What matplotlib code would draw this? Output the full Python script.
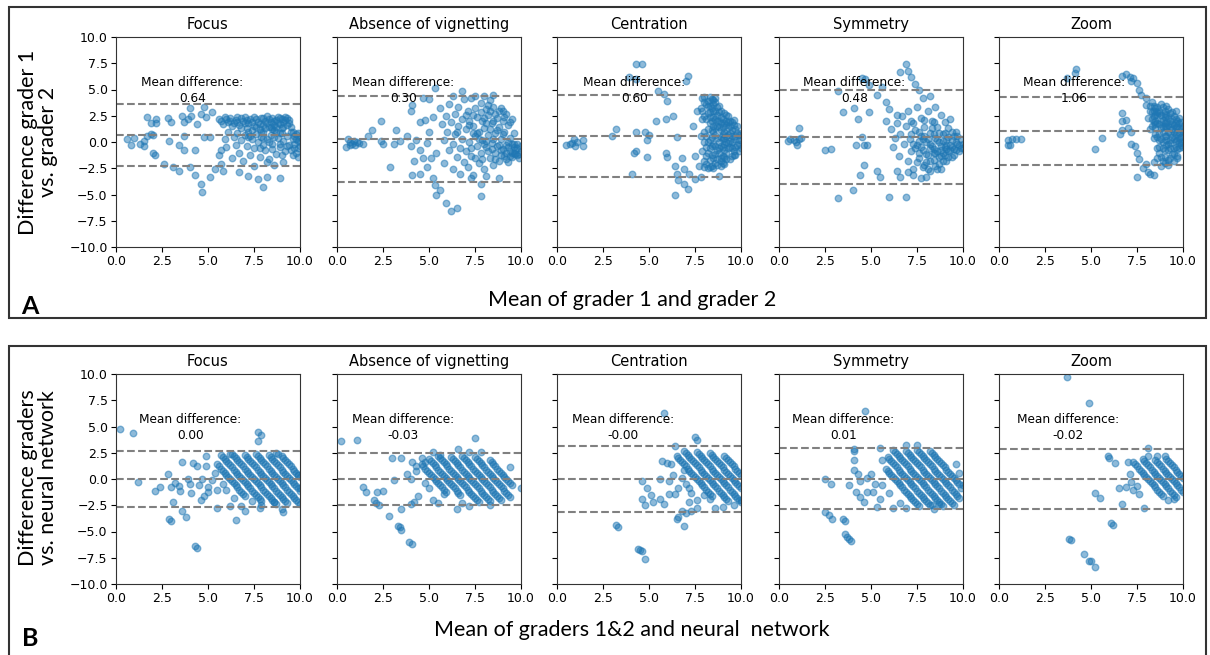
import matplotlib
matplotlib.use("Agg")
import matplotlib.pyplot as plt
from matplotlib.patches import Rectangle

titles = ["Focus", "Absence of vignetting", "Centration", "Symmetry", "Zoom"]

# panel A: grader 1 vs grader 2
mean_a = [0.64, 0.30, 0.60, 0.48, 1.06]
upper_a = [3.6, 4.4, 4.5, 5.0, 4.3]
lower_a = [-2.3, -3.8, -3.3, -4.0, -2.2]

# panel B: graders vs neural network
mean_b = [0.00, -0.03, -0.00, 0.01, -0.02]
upper_b = [2.65, 2.45, 3.15, 2.95, 2.9]
lower_b = [-2.65, -2.45, -3.15, -2.9, -2.9]

a_focus = [(0.6, 0.3), (0.8, -0.3), (1.0, 0.4), (1.3, -0.2), (1.5, 0.1), (1.5, -0.4), (1.7, 0.6), (1.9, 0.8),
           (2.0, 0.7), (1.7, 2.4), (1.9, 1.8), (2.2, 2.2), (2.2, 1.8), (2.8, 2.3), (3.0, 1.9), (3.6, 2.5),
           (3.7, 1.9), (3.9, 2.2), (4.0, 3.2), (4.1, 2.5), (4.4, 1.7), (4.6, 2.7), (4.8, 3.3), (4.9, 2.4),
           (5.2, 2.9), (2.9, 0.1), (3.4, -0.3), (3.7, 0.6), (3.7, -0.8), (4.3, -0.8), (4.8, 0.5), (5.1, 0.5),
           (2.0, -1.0), (2.1, -1.2), (2.6, -2.1), (3.1, -2.4), (3.4, -2.8), (4.0, -2.4), (4.3, -3.1),
           (4.6, -4.0), (4.7, -4.8), (5.1, -3.3), (5.4, -2.6), (7.2, -3.2), (7.7, -3.5), (8.0, -4.3),
           (8.2, -3.3), (8.9, -3.4), (6.7, -2.9), (7.5, -2.3), (9.1, -1.9), (5.7, -2.1), (5.8, -2.8),
           (5.6, 2.2), (5.8, 1.7), (5.9, 2.4), (6.1, 1.9), (6.2, 2.3), (6.3, 1.5), (6.5, 2.1), (6.6, 2.4),
           (6.7, 1.6), (6.9, 2.0), (7.0, 2.4), (7.1, 1.3), (7.2, 1.8), (7.3, 2.2), (7.5, 1.5), (7.5, 2.4),
           (7.7, 1.9), (7.8, 1.2), (7.9, 2.3), (8.0, 1.6), (8.1, 2.0), (8.2, 2.5), (8.3, 1.4), (8.4, 1.9),
           (8.5, 2.3), (8.6, 1.6), (8.7, 2.1), (8.8, 2.4), (8.9, 1.7), (9.0, 2.2), (9.1, 1.9), (9.2, 2.4),
           (9.3, 1.6), (9.4, 2.1), (5.6, -1.2), (5.7, -0.8), (5.9, 0.3), (6.0, -0.5), (6.1, 1.0), (6.3, -1.5),
           (6.4, 0.5), (6.5, -0.3), (6.6, 0.9), (6.7, -1.0), (6.8, 0.2), (6.9, -1.8), (7.0, 0.7), (7.1, -0.4),
           (7.2, 1.0), (7.3, -1.2), (7.4, 0.3), (7.5, -0.6), (7.6, 0.8), (7.7, 0.0), (7.8, -1.4), (7.9, 0.5),
           (8.0, -0.3), (8.0, 1.0), (8.1, -0.8), (8.2, 0.3), (8.3, -1.6), (8.4, 0.7), (8.5, -0.2), (8.6, 1.1),
           (8.7, -1.1), (8.8, 0.4), (8.9, -0.5), (9.0, 0.9), (9.1, 0.1), (9.2, -0.9), (9.3, 0.6), (9.4, -0.3),
           (9.5, 1.0), (9.6, -1.2), (9.6, 0.3), (9.7, -0.6), (9.8, 0.8), (9.8, -1.0), (9.9, 0.1), (9.9, -1.4),
           (10.0, 0.5), (10.0, -0.4), (8.6, -2.2), (8.2, -1.9), (8.7, 1.4), (7.3, 0.6), (8.9, 0.9),
           (5.7, 2.0), (6.0, 2.2), (6.4, 1.8), (6.8, 2.3), (6.8, 1.3), (7.1, 2.1), (7.4, 1.9), (7.4, 1.1),
           (7.6, 2.2), (7.8, 1.7), (8.0, 2.3), (8.2, 1.8), (8.3, 2.2), (8.5, 1.2), (8.6, 2.0), (8.8, 1.8),
           (8.9, 2.3), (9.1, 1.4), (9.2, 2.1), (9.3, 2.3), (9.4, 1.8), (9.5, 1.4), (9.6, 1.0), (9.7, 0.6),
           (9.8, 0.3), (9.9, 0.9), (10.0, 0.1), (9.7, -0.2), (9.9, -0.6), (9.5, -0.8), (8.0, 0.4), (8.3, 0.0),
           (8.6, 0.5), (8.9, -0.2), (7.6, 1.4), (7.9, 1.0), (8.1, 1.3), (8.4, 1.4), (8.7, 1.0), (9.0, 1.3),
           (7.0, 1.8), (6.6, 1.9), (6.2, 2.0), (7.2, 0.5), (7.8, -0.6), (8.5, -0.7), (9.3, -0.4), (9.0, -1.2)]

a_absence = [(0.5, -0.5), (0.6, 0.3), (0.7, 0.0), (0.8, -0.2), (0.9, 0.1), (1.0, -0.3), (1.1, 0.0), (1.2, -0.1),
             (1.4, -0.2), (0.7, -0.3), (1.7, 0.6), (1.9, 1.1), (2.4, 2.0), (2.4, 0.1), (2.5, -0.2), (2.9, -2.4),
             (3.1, -0.2), (3.2, 1.1), (3.4, 0.1), (3.8, 0.6), (4.0, -0.4), (4.0, 3.0), (4.1, 3.5), (4.2, -1.8),
             (4.1, -3.1), (4.3, 0.2), (4.5, -0.8), (4.5, 1.9), (4.5, -3.0), (4.7, -1.5), (4.7, 4.2), (4.8, 2.1),
             (4.9, -0.1), (4.9, -2.4), (5.0, 4.1), (5.0, 1.0), (5.1, -1.5), (5.2, 2.4), (5.2, -3.4), (5.3, -4.1),
             (5.4, -1.0), (5.4, -5.0), (5.6, -4.6), (5.9, -5.8), (6.2, -6.6), (6.5, -6.3), (5.3, 5.1), (6.8, 4.9),
             (6.3, 4.4), (5.6, 3.2), (5.7, 1.7), (5.8, 0.2), (5.8, -2.0), (5.9, 2.5), (6.0, 1.0), (6.1, -0.8),
             (6.1, 3.6), (6.2, 1.9), (6.3, -0.2), (6.3, -2.6), (6.4, 2.7), (6.4, 0.8), (6.5, -1.4), (6.6, 3.3),
             (6.6, 1.5), (6.7, -0.6), (6.7, -3.0), (6.8, 2.2), (6.8, 0.3), (6.9, -1.9), (6.9, 4.1), (7.0, 1.2),
             (7.0, -0.9), (7.1, 3.0), (7.1, -2.4), (7.2, 2.0), (7.2, 0.0), (7.3, 4.2), (7.3, -1.3), (7.4, 1.5),
             (7.4, -3.1), (7.5, 3.2), (7.5, 0.6), (7.6, -0.4), (7.6, 2.4), (7.7, -2.0), (7.7, 1.0), (7.8, 3.7),
             (7.8, -1.0), (7.9, 0.2), (7.9, 2.0), (8.0, -2.6), (8.0, 1.3), (8.1, 3.1), (8.1, -0.5), (8.2, 0.7),
             (8.2, 2.6), (8.3, -1.5), (8.3, 4.0), (8.4, 1.8), (8.4, -0.1), (8.5, -2.2), (8.5, 3.3), (8.6, 0.9),
             (8.6, -1.0), (8.7, 2.3), (8.7, -0.4), (8.8, 1.4), (8.8, -1.8), (8.9, 3.2), (8.9, 0.3), (9.0, -0.7),
             (9.0, 2.0), (9.1, -1.3), (9.1, 1.0), (9.2, 2.7), (9.2, -0.3), (9.3, -1.9), (9.3, 1.6), (9.4, 0.4),
             (9.4, -0.9), (9.5, 2.2), (9.5, -1.4), (9.6, -0.5), (9.6, 0.9), (9.7, -1.1), (9.8, -0.6), (9.9, -1.5),
             (10.0, -0.9), (7.5, 4.4), (8.0, 4.4), (8.5, 4.5), (8.1, -3.2), (7.3, -3.4), (7.8, -5.1), (7.8, -4.0),
             (8.8, -3.4), (9.3, 0.0), (9.6, -1.0), (9.8, -1.2), (9.5, -0.2), (8.9, -0.8), (8.2, -0.9), (7.4, 0.9),
             (7.2, 1.6), (7.4, 2.6), (7.6, 0.9), (7.8, 2.9), (7.9, -1.6), (8.0, 2.3), (8.1, 0.1), (8.2, 3.5),
             (8.3, 1.2), (8.4, -0.7), (8.5, 2.0), (8.6, -1.6), (8.7, 1.1), (8.8, 3.0), (8.9, -1.2), (9.0, 0.8),
             (9.1, 2.4), (9.2, -1.0), (9.3, -0.5), (9.4, 1.9), (9.5, -1.0), (9.6, -0.2), (9.7, -0.8), (9.8, -0.2),
             (9.9, -1.1), (10.0, -0.4), (9.4, -1.3), (9.2, -1.6), (8.8, -0.3), (8.5, 0.3), (8.1, 1.8), (7.7, 0.3),
             (7.3, -0.6), (7.0, 2.6), (6.5, 1.0), (8.6, 2.7), (8.3, 3.0), (9.0, 3.0), (7.5, -1.5), (8.0, -0.2)]

a_centration = [(0.5, -0.3), (0.7, -0.2), (0.9, 0.3), (1.0, -0.4), (1.1, 0.0), (1.4, 0.2), (1.4, -0.4), (0.8, -0.1),
                (3.0, 0.6), (3.2, 1.2), (4.3, 7.4), (4.6, 7.4), (3.9, 6.2), (4.3, 6.0), (5.5, 4.9), (5.8, 4.6),
                (6.0, 3.9), (7.1, 6.3), (7.0, 5.8), (4.3, 1.0), (4.8, 1.0), (5.0, 0.7), (4.9, 0.2), (5.4, 2.0),
                (5.9, 2.2), (6.3, 2.5), (6.5, 0.5), (4.2, -1.0), (4.3, -0.9), (4.9, -1.4), (5.9, -1.0),
                (6.0, -1.4), (6.4, -2.3), (6.8, -1.5), (6.9, -2.6), (4.1, -3.0), (6.5, -3.0), (6.6, -3.6),
                (6.9, -4.0), (7.1, -4.5), (6.4, -5.0), (7.2, -3.0), (7.5, -3.5), (7.8, -3.3), (8.8, -3.2),
                (7.4, 1.5), (7.5, -1.3), (7.6, 3.0), (7.7, -2.3), (7.8, 0.6), (7.9, 4.2), (7.9, 2.2), (8.0, -1.8),
                (8.0, 1.0), (8.1, 3.6), (8.1, -0.5), (8.2, 2.8), (8.2, -2.5), (8.3, 4.3), (8.3, 0.2), (8.3, 1.8),
                (8.4, 3.2), (8.4, -1.2), (8.5, 2.4), (8.5, -0.2), (8.6, 3.8), (8.6, 0.7), (8.6, -2.0), (8.7, 1.5),
                (8.7, -0.8), (8.8, 2.9), (8.8, 0.0), (8.9, -1.5), (8.9, 1.1), (9.0, 2.2), (9.0, -0.5), (9.1, 0.4),
                (9.1, -2.1), (9.2, 1.6), (9.2, -1.0), (9.3, 2.5), (9.3, -0.1), (9.4, 0.9), (9.4, -1.6), (9.5, 1.9),
                (9.5, -0.6), (9.6, 0.3), (9.7, 1.2), (9.7, -1.2), (9.8, -0.3), (9.9, 0.7), (9.9, -0.9), (10.0, 0.2),
                (8.4, 2.0), (8.6, -0.4), (8.8, 1.4), (9.0, 0.8), (8.2, 1.2), (8.5, 3.6), (8.9, -2.3), (9.2, 0.0),
                (8.3, 3.4), (8.7, 2.6), (9.1, -1.4), (8.5, 1.0), (9.6, -0.9), (8.0, 3.8), (8.9, 0.5), (9.4, 0.1),
                (7.8, 3.2), (7.9, -0.9), (8.0, 2.5), (8.0, 4.3), (8.1, 0.6), (8.1, -2.1), (8.2, 3.4), (8.2, -1.0),
                (8.3, 2.4), (8.3, -0.6), (8.4, 4.1), (8.4, 0.5), (8.4, -2.3), (8.5, 3.0), (8.5, 1.5), (8.5, -1.5),
                (8.6, 2.2), (8.6, -1.1), (8.7, 3.3), (8.7, 0.4), (8.7, -2.2), (8.8, 2.0), (8.8, -1.0), (8.9, 3.0),
                (8.9, 1.8), (8.9, -0.4), (9.0, 1.4), (9.0, -1.3), (9.1, 2.8), (9.1, 1.0), (9.1, -0.2), (9.2, 2.0),
                (9.2, -1.6), (9.3, 0.7), (9.3, 1.3), (9.4, -0.5), (9.4, 2.0), (9.5, 0.0), (9.5, 1.1), (9.6, -1.2),
                (9.6, 1.6), (9.7, 0.6), (9.8, 0.9), (9.9, -0.2), (10.0, -0.6), (10.0, 0.9), (8.2, 3.9), (8.6, 4.2),
                (8.3, -1.7), (8.0, -2.4), (7.9, 3.0), (8.0, 0.0), (8.1, 2.2), (8.1, -1.3), (8.2, 0.0), (8.3, 2.9),
                (8.3, -2.4), (8.4, 1.1), (8.4, -0.4), (8.5, 4.0), (8.5, -2.5), (8.6, 1.3), (8.6, 3.0), (8.7, -1.6),
                (8.7, 2.0), (8.8, -0.6), (8.8, 3.4), (8.9, 2.4), (8.9, -1.8), (9.0, 0.3), (9.0, -2.0), (9.1, 1.8),
                (9.1, -0.8), (9.2, 2.6), (9.2, 0.6), (9.3, -0.6), (9.3, 1.9), (9.4, 1.5), (9.5, -1.3), (9.5, 0.6),
                (9.6, 2.1), (9.7, -0.5), (9.8, 1.5), (9.9, 0.2)]

a_symmetry = [(0.5, 0.1), (0.6, 0.3), (0.8, 0.2), (1.0, -0.3), (1.1, 0.3), (1.1, 1.3), (1.2, 0.4), (0.9, 0.0),
              (2.5, -0.8), (2.8, -0.7), (3.2, -5.3), (4.0, -4.6), (3.5, 2.9), (4.1, 3.2), (4.3, 2.2), (4.2, -0.3),
              (4.6, -0.3), (4.8, -0.3), (4.5, 0.5), (4.9, 2.9), (4.5, 6.1), (4.7, 6.0), (4.9, 5.4), (3.2, 4.9),
              (4.6, -2.2), (4.4, -3.1), (5.3, -2.8), (5.5, -3.3), (6.0, -5.2), (6.9, -5.2), (6.4, -2.8),
              (6.6, -3.3), (6.9, 7.4), (6.6, 6.7), (7.2, 6.2), (7.0, 6.8), (7.4, 5.5), (7.6, 5.0), (7.8, 4.2),
              (8.2, 4.4), (5.6, 5.2), (5.3, 4.5), (5.8, 3.8), (6.0, 3.1), (6.4, 2.6), (5.8, 2.0), (6.1, 1.2),
              (6.2, -0.5), (6.3, 0.4), (6.4, 1.8), (6.5, -1.3), (6.6, 0.8), (6.7, 2.5), (6.8, -0.2), (6.9, 1.5),
              (7.0, -1.8), (7.0, 3.0), (7.1, 0.3), (7.2, 2.0), (7.2, -0.9), (7.3, -2.6), (7.4, 1.1), (7.5, -0.3),
              (7.5, 3.3), (7.6, -1.5), (7.7, 0.6), (7.7, 2.3), (7.8, -0.8), (7.9, -2.2), (7.9, 1.4), (8.0, 0.0),
              (8.1, -1.2), (8.1, 3.0), (8.2, 0.9), (8.2, -2.8), (8.3, -0.4), (8.3, 2.0), (8.4, -1.7), (8.5, 0.4),
              (8.5, 3.3), (8.6, -0.9), (8.6, 1.4), (8.7, -2.1), (8.7, 0.0), (8.8, 2.6), (8.8, -1.3), (8.9, 0.8),
              (9.0, -0.5), (9.0, 1.9), (9.1, -1.8), (9.1, 0.2), (9.2, -0.9), (9.2, 1.3), (9.3, -0.3), (9.3, 2.2),
              (9.4, -1.4), (9.5, 0.6), (9.5, -0.7), (9.6, 1.0), (9.7, -0.2), (9.8, -0.9), (9.9, 0.3), (10.0, -0.6),
              (7.6, 0.1), (8.0, -1.9), (8.4, 0.8), (8.9, -1.0), (9.4, 0.2), (7.3, -0.2), (8.6, -2.6), (7.3, -3.1),
              (7.7, -3.4), (8.0, -3.3), (7.0, -2.9), (8.2, -0.6), (8.8, -0.4), (7.8, 0.3), (9.1, -0.7), (8.4, -1.0),
              (7.2, 0.8), (7.4, -0.6), (7.5, -1.9), (7.6, 1.0), (7.7, -0.5), (7.8, -2.4), (7.9, 0.6), (8.0, -1.1),
              (8.1, 0.3), (8.2, -1.8), (8.2, -0.2), (8.3, 1.3), (8.4, -0.7), (8.5, -2.3), (8.5, -1.0), (8.6, 0.2),
              (8.7, -1.4), (8.7, 0.9), (8.8, -0.8), (8.9, -1.8), (8.9, 0.1), (9.0, -1.2), (9.0, 0.9), (9.1, -0.3),
              (9.2, -1.4), (9.2, 0.5), (9.3, -0.8), (9.4, 1.0), (9.4, -0.5), (9.5, -1.2), (9.6, 0.0), (9.6, -0.8),
              (9.7, 0.6), (9.8, -0.3), (9.9, -0.6), (10.0, -0.2), (7.3, 1.8), (7.9, 2.1), (8.4, 1.9), (8.1, -2.6),
              (8.8, -2.6), (7.6, -1.0)]

a_zoom = [(0.5, 0.2), (0.7, 0.3), (0.9, 0.3), (1.2, 0.3), (0.6, -0.3), (0.5, -0.3), (4.2, 7.0), (4.15, 6.6),
          (3.7, 6.1), (5.2, -0.7), (5.6, 0.4), (6.7, 2.8), (6.7, 2.0), (6.9, 2.1), (6.7, 1.1), (7.0, 1.3),
          (7.2, 1.0), (6.6, 0.8), (6.7, 6.3), (6.9, 6.5), (7.1, 6.2), (7.3, 6.1), (7.5, 5.6), (7.6, 5.0),
          (7.7, 4.5), (8.0, 4.2), (7.2, 5.8), (7.2, -0.2), (7.4, -0.4), (7.5, -1.0), (7.6, -1.6), (7.8, -2.5),
          (8.0, -2.1), (7.5, -3.3), (8.1, -2.9), (8.2, -3.0), (8.4, -3.1), (8.0, 3.5), (8.1, 2.3), (8.2, 3.0),
          (8.3, 1.5), (8.3, 3.8), (8.4, 2.5), (8.5, 0.8), (8.5, 3.2), (8.6, 1.8), (8.6, -0.6), (8.7, 2.8),
          (8.7, 0.2), (8.8, 1.3), (8.8, -1.4), (8.9, 3.3), (8.9, 2.1), (9.0, 0.6), (9.0, -0.8), (9.1, 2.6),
          (9.1, 1.4), (9.2, -0.2), (9.2, -1.7), (9.3, 2.0), (9.3, 0.9), (9.4, -1.1), (9.4, 2.9), (9.5, 0.3),
          (9.5, 1.6), (9.6, -0.5), (9.6, 2.2), (9.7, 1.0), (9.7, -1.3), (9.8, 0.4), (9.8, 1.8), (9.9, -0.3),
          (9.9, 1.2), (10.0, 0.6), (10.0, -0.5), (8.4, -1.9), (8.8, -2.3), (9.0, -2.0), (8.6, -1.5), (9.2, -2.2),
          (9.5, -1.8), (9.1, 3.4), (8.8, 3.6), (9.6, 3.0), (8.5, 2.0), (8.9, 1.0), (9.3, 0.2), (9.7, 0.2),
          (8.7, -0.5), (9.0, 2.4), (8.4, 3.4), (9.4, 1.2), (9.8, -0.6), (8.2, 1.2), (9.2, 3.1), (8.6, 2.6),
          (8.3, 2.9), (8.4, 1.9), (8.5, 2.6), (8.5, 1.3), (8.6, 3.3), (8.6, 0.5), (8.7, 1.7), (8.7, -1.0),
          (8.8, 2.6), (8.8, 0.3), (8.9, 1.4), (8.9, -0.6), (9.0, 3.0), (9.0, 1.8), (9.0, -1.4), (9.1, 0.6),
          (9.1, -0.3), (9.2, 2.3), (9.2, 1.0), (9.3, -0.6), (9.3, 2.8), (9.4, 0.5), (9.4, 1.7), (9.5, -0.6),
          (9.5, 2.5), (9.6, 1.4), (9.6, 0.1), (9.7, 2.0), (9.7, -0.7), (9.8, 1.3), (9.8, -0.1), (9.9, 0.5),
          (9.9, 1.9), (10.0, 1.0), (10.0, -0.1), (8.9, -1.8), (9.3, -1.5), (9.7, -1.5), (8.2, 3.4), (8.4, 0.4),
          (8.3, 2.2), (8.4, 3.0), (8.5, 1.7), (8.6, 2.9), (8.7, 0.9), (8.7, 3.0), (8.8, 2.0), (8.9, 0.0),
          (9.0, 1.5), (9.0, 2.7), (9.1, 0.2), (9.1, 1.9), (9.2, -0.8), (9.2, 1.6), (9.3, 1.4), (9.3, -0.1),
          (9.4, 2.2), (9.5, 1.0), (9.5, -1.1), (9.6, 1.8), (9.6, 0.7), (9.7, 1.4), (9.8, 2.3), (9.8, 0.9),
          (9.9, 0.0), (10.0, 1.5)]

# panel B: scattered points away from the diagonal bands
b_focus = [(0.2, 4.8), (0.9, 4.4), (1.2, -0.3), (2.1, -1.1), (2.4, -0.8), (2.8, 0.5), (2.9, -3.8), (3.0, -4.0),
           (3.1, -2.2), (3.0, -0.8), (3.2, -0.4), (3.4, -0.7), (3.5, -1.1), (3.6, -3.0), (3.6, 1.6), (3.8, -3.6),
           (3.9, 0.0), (4.0, -0.5), (4.1, -1.3), (4.2, 1.5), (4.3, -6.4), (4.4, -6.6), (4.4, 1.2), (4.5, -0.6),
           (4.6, -2.0), (4.7, 0.0), (4.8, -1.6), (4.9, 2.2), (4.9, 1.2), (5.0, -0.8), (5.0, -1.2), (5.2, -0.1),
           (5.4, 0.6), (5.5, -1.0), (5.5, -2.8), (6.2, -2.6), (6.5, -3.9), (6.8, -2.6), (7.0, -3.0), (7.8, -2.8),
           (7.9, -2.5), (7.7, 4.5), (7.9, 4.2), (7.7, 3.6), (8.7, 2.5), (8.8, 2.4), (9.0, -2.9), (9.1, -3.1),
           (10.0, -0.9), (9.9, 0.4), (6.2, 2.4), (5.8, -0.5), (6.0, -1.0), (6.4, -1.8), (7.4, -2.1), (8.6, -2.2)]

b_absence = [(0.2, 3.6), (1.1, 3.7), (1.4, -0.8), (1.6, -1.2), (2.0, -2.0), (2.1, -2.3), (2.2, -1.2), (2.3, -2.5),
             (2.5, -1.1), (2.8, -3.5), (3.0, 2.0), (3.1, -0.1), (3.3, -4.5), (3.4, -4.6), (3.5, -4.9), (3.5, -2.9),
             (3.5, 2.0), (3.9, -6.0), (4.1, -6.2), (3.8, 0.5), (4.0, 0.0), (4.3, 0.8), (4.2, -2.2), (4.0, -2.4),
             (4.4, -1.6), (4.1, 1.6), (4.3, 1.2), (4.6, 2.0), (4.8, 1.6), (7.5, 3.9), (6.6, 2.9), (5.2, 2.6),
             (5.6, 2.3), (7.2, 2.6), (7.8, 2.6), (9.4, 1.1), (10.0, -0.9), (8.3, -2.5), (6.5, -2.9), (6.8, -2.3),
             (7.2, -2.6), (5.2, -2.0), (5.5, -2.3), (5.8, -1.4), (4.8, -0.4), (5.0, -0.9)]

b_centration = [(5.8, 6.3), (3.2, -4.4), (3.3, -4.6), (4.4, -6.7), (4.5, -6.8), (4.6, -6.9), (4.8, -7.6),
                (4.6, -0.2), (4.9, -0.9), (5.1, -1.5), (4.6, -1.9), (4.8, -2.5), (5.2, -2.2), (5.6, -1.9),
                (5.8, -2.4), (5.6, 0.0), (5.7, 1.7), (6.0, 1.5), (6.2, 1.4), (6.3, 0.4), (6.1, -0.2), (6.4, -1.4),
                (6.1, -1.4), (6.5, -3.8), (6.6, -3.6), (6.9, -4.5), (6.8, -3.0), (7.0, -3.2), (7.3, -3.0),
                (7.6, -2.8), (8.6, -2.8), (9.0, -2.7), (9.6, -2.5), (10.0, -2.0), (7.5, 4.0), (7.6, 3.7), (6.4, 3.1),
                (6.9, 0.9), (7.0, -0.5), (7.2, -0.9), (7.3, -1.3), (7.2, -2.2), (7.6, -2.0), (8.0, -1.5),
                (8.3, -1.9), (6.8, 0.1), (6.6, -0.9)]

b_symmetry = [(4.7, 6.5), (2.5, 0.0), (2.8, -0.5), (2.5, -3.1), (2.7, -3.4), (2.9, -3.8), (3.5, -3.8), (3.6, -4.0),
              (3.6, -5.2), (3.7, -5.5), (3.8, -5.7), (3.9, -5.9), (4.1, 2.9), (4.1, 2.7), (4.1, 1.8), (4.1, 0.9),
              (4.3, 0.5), (4.4, -0.2), (3.8, -0.6), (4.2, -1.2), (4.4, -1.7), (4.6, -2.2), (4.8, -1.2), (4.8, 0.1),
              (5.0, 0.5), (5.2, -0.5), (5.1, -1.2), (5.3, -2.7), (5.5, -1.9), (5.5, 3.0), (5.6, 1.8), (5.8, 1.0),
              (6.0, -1.3), (6.2, -2.8), (6.6, -2.3), (6.9, -2.8), (6.9, 3.2), (7.5, 3.2), (8.3, -2.5), (8.7, -2.4),
              (8.4, -2.9), (10.0, -0.6), (9.9, -0.9), (5.6, -0.6), (9.8, 0.6), (9.6, 1.4)]

b_zoom = [(3.7, 9.7), (4.9, 7.2), (3.8, -5.7), (3.9, -5.8), (4.6, -7.1), (4.9, -7.8), (5.0, -7.8), (5.2, -8.4),
          (5.2, -1.3), (5.5, -1.8), (6.1, -4.2), (6.2, -4.4), (5.9, 2.2), (6.0, 2.0), (6.3, 1.5), (6.5, -0.9),
          (6.7, -2.4), (6.9, -0.8), (7.2, -0.3), (7.0, 1.6), (7.3, -1.0), (7.6, -1.4), (7.9, -2.8), (8.1, 3.0),
          (8.1, 2.2), (9.0, 2.2), (9.5, -1.9), (9.2, -2.0), (8.6, 2.2), (7.1, 0.5), (7.5, -0.7)]

# panel B: points on the diagonal bands (discrete grades)
b_focus_bands = [
    (5.5, 1.4), (5.6, 1.2), (5.7, 1.0), (5.8, 0.8), (5.9, 0.6), (6.0, 0.4), (6.1, 0.2), (6.2, 0.0), (6.3, -0.2),
    (6.4, -0.4), (6.5, -0.6), (6.6, -0.8), (6.7, -1.0), (6.8, -1.2), (6.9, -1.4), (7.0, -1.6),
    (5.7, 2.3), (5.8, 2.1), (5.9, 1.9), (6.0, 1.7), (6.1, 1.5), (6.2, 1.3), (6.3, 1.1), (6.4, 0.9), (6.5, 0.7),
    (6.6, 0.5), (6.7, 0.3), (6.8, 0.1), (6.9, -0.1), (7.0, -0.3), (7.1, -0.5), (7.2, -0.7), (7.3, -0.9),
    (7.4, -1.1), (7.5, -1.3), (7.6, -1.5), (7.7, -1.7), (7.8, -1.9), (7.9, -2.1),
    (6.3, 2.4), (6.4, 2.2), (6.5, 2.0), (6.6, 1.8), (6.7, 1.6), (6.8, 1.4), (6.9, 1.2), (7.0, 1.0), (7.1, 0.8),
    (7.2, 0.6), (7.3, 0.4), (7.4, 0.2), (7.5, 0.0), (7.6, -0.2), (7.7, -0.4), (7.8, -0.6), (7.9, -0.8),
    (8.0, -1.0), (8.1, -1.2), (8.2, -1.4), (8.3, -1.6), (8.4, -1.8), (8.5, -2.0), (8.6, -2.2), (8.7, -2.4),
    (7.0, 2.3), (7.1, 2.1), (7.2, 1.9), (7.3, 1.7), (7.4, 1.5), (7.5, 1.3), (7.6, 1.1), (7.7, 0.9), (7.8, 0.7),
    (7.9, 0.5), (8.0, 0.3), (8.1, 0.1), (8.2, -0.1), (8.3, -0.3), (8.4, -0.5), (8.5, -0.7), (8.6, -0.9),
    (8.7, -1.1), (8.8, -1.3), (8.9, -1.5), (9.0, -1.7), (9.1, -1.9), (9.2, -2.1), (9.3, -2.3),
    (7.6, 2.4), (7.7, 2.2), (7.8, 2.0), (7.9, 1.8), (8.0, 1.6), (8.1, 1.4), (8.2, 1.2), (8.3, 1.0), (8.4, 0.8),
    (8.5, 0.6), (8.6, 0.4), (8.7, 0.2), (8.8, 0.0), (8.9, -0.2), (9.0, -0.4), (9.1, -0.6), (9.2, -0.8),
    (9.3, -1.0), (9.4, -1.2), (9.5, -1.4), (9.6, -1.6), (9.7, -1.8), (9.8, -2.0), (9.9, -2.2), (10.0, -2.4),
    (8.3, 2.3), (8.4, 2.1), (8.5, 1.9), (8.6, 1.7), (8.7, 1.5), (8.8, 1.3), (8.9, 1.1), (9.0, 0.9), (9.1, 0.7),
    (9.2, 0.5), (9.3, 0.3), (9.4, 0.1), (9.5, -0.1), (9.6, -0.3), (9.7, -0.5), (9.8, -0.7), (9.9, -0.9),
    (10.0, -1.1),
    (9.0, 2.2), (9.1, 2.0), (9.2, 1.8), (9.3, 1.6), (9.4, 1.4), (9.5, 1.2), (9.6, 1.0), (9.7, 0.8), (9.8, 0.6),
    (9.9, 0.4), (10.0, 0.2)]

b_absence_bands = [
    (4.6, 1.4), (4.7, 1.2), (4.8, 1.0), (4.9, 0.8), (5.0, 0.6), (5.1, 0.4), (5.2, 0.2), (5.3, 0.0), (5.4, -0.2),
    (5.5, -0.4), (5.6, -0.6), (5.7, -0.8), (5.8, -1.0), (5.9, -1.2),
    (5.0, 1.9), (5.1, 1.7), (5.2, 1.5), (5.3, 1.3), (5.4, 1.1), (5.5, 0.9), (5.6, 0.7), (5.7, 0.5), (5.8, 0.3),
    (5.9, 0.1), (6.0, -0.1), (6.1, -0.3), (6.2, -0.5), (6.3, -0.7), (6.4, -0.9), (6.5, -1.1), (6.6, -1.3),
    (6.7, -1.5),
    (5.5, 2.2), (5.6, 2.0), (5.7, 1.8), (5.8, 1.6), (5.9, 1.4), (6.0, 1.2), (6.1, 1.0), (6.2, 0.8), (6.3, 0.6),
    (6.4, 0.4), (6.5, 0.2), (6.6, 0.0), (6.7, -0.2), (6.8, -0.4), (6.9, -0.6), (7.0, -0.8), (7.1, -1.0),
    (7.2, -1.2), (7.3, -1.4), (7.4, -1.6), (7.5, -1.8), (7.6, -2.0), (7.7, -2.2),
    (6.2, 2.1), (6.3, 1.9), (6.4, 1.7), (6.5, 1.5), (6.6, 1.3), (6.7, 1.1), (6.8, 0.9), (6.9, 0.7), (7.0, 0.5),
    (7.1, 0.3), (7.2, 0.1), (7.3, -0.1), (7.4, -0.3), (7.5, -0.5), (7.6, -0.7), (7.7, -0.9), (7.8, -1.1),
    (7.9, -1.3), (8.0, -1.5), (8.1, -1.7), (8.2, -1.9), (8.3, -2.1),
    (6.8, 2.2), (6.9, 2.0), (7.0, 1.8), (7.1, 1.6), (7.2, 1.4), (7.3, 1.2), (7.4, 1.0), (7.5, 0.8), (7.6, 0.6),
    (7.7, 0.4), (7.8, 0.2), (7.9, 0.0), (8.0, -0.2), (8.1, -0.4), (8.2, -0.6), (8.3, -0.8), (8.4, -1.0),
    (8.5, -1.2), (8.6, -1.4), (8.7, -1.6), (8.8, -1.8), (8.9, -2.0),
    (7.5, 2.1), (7.6, 1.9), (7.7, 1.7), (7.8, 1.5), (7.9, 1.3), (8.0, 1.1), (8.1, 0.9), (8.2, 0.7), (8.3, 0.5),
    (8.4, 0.3), (8.5, 0.1), (8.6, -0.1), (8.7, -0.3), (8.8, -0.5), (8.9, -0.7), (9.0, -0.9), (9.1, -1.1),
    (9.2, -1.3), (9.3, -1.5), (9.4, -1.7),
    (8.3, 1.8), (8.4, 1.6), (8.5, 1.4), (8.6, 1.2), (8.7, 1.0), (8.8, 0.8), (8.9, 0.6), (9.0, 0.4), (9.1, 0.2),
    (9.2, 0.0), (9.3, -0.2), (9.4, -0.4), (9.5, -0.6)]

b_centration_bands = [
    (6.5, 2.2), (6.6, 2.0), (6.7, 1.8), (6.8, 1.6), (6.9, 1.4), (7.0, 1.2), (7.1, 1.0), (7.2, 0.8), (7.3, 0.6),
    (7.4, 0.4), (7.5, 0.2), (7.6, 0.0), (7.7, -0.2), (7.8, -0.4), (7.9, -0.6), (8.0, -0.8), (8.1, -1.0),
    (8.2, -1.2), (8.3, -1.4), (8.4, -1.6),
    (6.9, 2.7), (7.0, 2.5), (7.1, 2.3), (7.2, 2.1), (7.3, 1.9), (7.4, 1.7), (7.5, 1.5), (7.6, 1.3), (7.7, 1.1),
    (7.8, 0.9), (7.9, 0.7), (8.0, 0.5), (8.1, 0.3), (8.2, 0.1), (8.3, -0.1), (8.4, -0.3), (8.5, -0.5),
    (8.6, -0.7), (8.7, -0.9), (8.8, -1.1), (8.9, -1.3), (9.0, -1.5), (9.1, -1.7), (9.2, -1.9), (9.3, -2.1),
    (7.6, 2.6), (7.7, 2.4), (7.8, 2.2), (7.9, 2.0), (8.0, 1.8), (8.1, 1.6), (8.2, 1.4), (8.3, 1.2), (8.4, 1.0),
    (8.5, 0.8), (8.6, 0.6), (8.7, 0.4), (8.8, 0.2), (8.9, 0.0), (9.0, -0.2), (9.1, -0.4), (9.2, -0.6),
    (9.3, -0.8), (9.4, -1.0), (9.5, -1.2), (9.6, -1.4), (9.7, -1.6), (9.8, -1.8), (9.9, -2.0), (10.0, -2.2),
    (8.3, 2.5), (8.4, 2.3), (8.5, 2.1), (8.6, 1.9), (8.7, 1.7), (8.8, 1.5), (8.9, 1.3), (9.0, 1.1), (9.1, 0.9),
    (9.2, 0.7), (9.3, 0.5), (9.4, 0.3), (9.5, 0.1), (9.6, -0.1), (9.7, -0.3), (9.8, -0.5), (9.9, -0.7),
    (10.0, -0.9),
    (9.1, 2.2), (9.2, 2.0), (9.3, 1.8), (9.4, 1.6), (9.5, 1.4), (9.6, 1.2), (9.7, 1.0), (9.8, 0.8), (9.9, 0.6),
    (10.0, 0.4)]

b_symmetry_bands = [
    (5.9, 0.8), (6.0, 0.6), (6.1, 0.4), (6.2, 0.2), (6.3, 0.0), (6.4, -0.2), (6.5, -0.4), (6.6, -0.6),
    (6.7, -0.8), (6.8, -1.0), (6.9, -1.2), (7.0, -1.4), (7.1, -1.6), (7.2, -1.8), (7.3, -2.0), (7.4, -2.2),
    (7.5, -2.4), (7.6, -2.6),
    (5.9, 2.1), (6.0, 1.9), (6.1, 1.7), (6.2, 1.5), (6.3, 1.3), (6.4, 1.1), (6.5, 0.9), (6.6, 0.7), (6.7, 0.5),
    (6.8, 0.3), (6.9, 0.1), (7.0, -0.1), (7.1, -0.3), (7.2, -0.5), (7.3, -0.7), (7.4, -0.9), (7.5, -1.1),
    (7.6, -1.3), (7.7, -1.5), (7.8, -1.7), (7.9, -1.9), (8.0, -2.1), (8.1, -2.3), (8.2, -2.5),
    (6.2, 2.8), (6.3, 2.6), (6.4, 2.4), (6.5, 2.2), (6.6, 2.0), (6.7, 1.8), (6.8, 1.6), (6.9, 1.4), (7.0, 1.2),
    (7.1, 1.0), (7.2, 0.8), (7.3, 0.6), (7.4, 0.4), (7.5, 0.2), (7.6, 0.0), (7.7, -0.2), (7.8, -0.4),
    (7.9, -0.6), (8.0, -0.8), (8.1, -1.0), (8.2, -1.2), (8.3, -1.4), (8.4, -1.6), (8.5, -1.8), (8.6, -2.0),
    (8.7, -2.2), (8.8, -2.4), (8.9, -2.6),
    (6.9, 2.7), (7.0, 2.5), (7.1, 2.3), (7.2, 2.1), (7.3, 1.9), (7.4, 1.7), (7.5, 1.5), (7.6, 1.3), (7.7, 1.1),
    (7.8, 0.9), (7.9, 0.7), (8.0, 0.5), (8.1, 0.3), (8.2, 0.1), (8.3, -0.1), (8.4, -0.3), (8.5, -0.5),
    (8.6, -0.7), (8.7, -0.9), (8.8, -1.1), (8.9, -1.3), (9.0, -1.5), (9.1, -1.7), (9.2, -1.9), (9.3, -2.1),
    (9.4, -2.3), (9.5, -2.5),
    (7.5, 2.8), (7.6, 2.6), (7.7, 2.4), (7.8, 2.2), (7.9, 2.0), (8.0, 1.8), (8.1, 1.6), (8.2, 1.4), (8.3, 1.2),
    (8.4, 1.0), (8.5, 0.8), (8.6, 0.6), (8.7, 0.4), (8.8, 0.2), (8.9, 0.0), (9.0, -0.2), (9.1, -0.4),
    (9.2, -0.6), (9.3, -0.8), (9.4, -1.0), (9.5, -1.2), (9.6, -1.4), (9.7, -1.6), (9.8, -1.8),
    (8.2, 2.7), (8.3, 2.5), (8.4, 2.3), (8.5, 2.1), (8.6, 1.9), (8.7, 1.7), (8.8, 1.5), (8.9, 1.3), (9.0, 1.1),
    (9.1, 0.9), (9.2, 0.7), (9.3, 0.5), (9.4, 0.3), (9.5, 0.1), (9.6, -0.1), (9.7, -0.3), (9.8, -0.5)]

b_zoom_bands = [
    (7.3, 1.6), (7.4, 1.4), (7.5, 1.2), (7.6, 1.0), (7.7, 0.8), (7.8, 0.6), (7.9, 0.4), (8.0, 0.2), (8.1, 0.0),
    (8.2, -0.2), (8.3, -0.4), (8.4, -0.6), (8.5, -0.8), (8.6, -1.0), (8.7, -1.2), (8.8, -1.4), (8.9, -1.6),
    (7.8, 1.9), (7.9, 1.7), (8.0, 1.5), (8.1, 1.3), (8.2, 1.1), (8.3, 0.9), (8.4, 0.7), (8.5, 0.5), (8.6, 0.3),
    (8.7, 0.1), (8.8, -0.1), (8.9, -0.3), (9.0, -0.5), (9.1, -0.7), (9.2, -0.9), (9.3, -1.1), (9.4, -1.3),
    (9.5, -1.5), (9.6, -1.7),
    (8.5, 1.8), (8.6, 1.6), (8.7, 1.4), (8.8, 1.2), (8.9, 1.0), (9.0, 0.8), (9.1, 0.6), (9.2, 0.4), (9.3, 0.2),
    (9.4, 0.0), (9.5, -0.2), (9.6, -0.4), (9.7, -0.6), (9.8, -0.8), (9.9, -1.0), (10.0, -1.2),
    (9.1, 1.9), (9.2, 1.7), (9.3, 1.5), (9.4, 1.3), (9.5, 1.1), (9.6, 0.9), (9.7, 0.7), (9.8, 0.5), (9.9, 0.3),
    (10.0, 0.1)]

pts_a = [a_focus, a_absence, a_centration, a_symmetry, a_zoom]
pts_b = [b_focus + b_focus_bands, b_absence + b_absence_bands, b_centration + b_centration_bands,
         b_symmetry + b_symmetry_bands, b_zoom + b_zoom_bands]

W, H = 1210, 655
fig = plt.figure(figsize=(W / 100, H / 100), dpi=100)

lab_font = ["Lato", "DejaVu Sans"]

# frames round the two panels
fig.add_artist(Rectangle((9 / W, 1 - 318 / H), 1197 / W, 311 / H, transform=fig.transFigure,
                         fill=False, edgecolor="#333333", linewidth=1.5))
fig.add_artist(Rectangle((9 / W, 1 - 665 / H), 1197 / W, 319 / H, transform=fig.transFigure,
                         fill=False, edgecolor="#333333", linewidth=1.5))

lefts = [116, 337, 557, 779, 999]
text_x_a = [4.15, 3.6, 4.2, 4.1, 4.1]
text_x_b = [4.05, 3.6, 3.6, 3.5, 3.75]


def draw_panel(top, pts, means, ups, lows, text_x):
    for i in range(5):
        ax = fig.add_axes([lefts[i] / W, 1 - (top + 210) / H, 184 / W, 210 / H])
        xs = [p[0] for p in pts[i]]
        ys = [p[1] for p in pts[i]]
        ax.scatter(xs, ys, s=22, color="#1f77b4", alpha=0.5)
        ax.axhline(means[i], color="gray", linestyle="--", lw=1.5)
        ax.axhline(ups[i], color="gray", linestyle="--", lw=1.5)
        ax.axhline(lows[i], color="gray", linestyle="--", lw=1.5)
        ax.text(text_x[i], 4.9, "Mean difference:\n%.2f" % means[i], ha="center", va="center",
                multialignment="center", fontsize=8.7, linespacing=1.25)
        ax.set_xlim(0, 10)
        ax.set_ylim(-10, 10)
        ax.set_xticks([0, 2.5, 5, 7.5, 10])
        ax.set_yticks([-10, -7.5, -5, -2.5, 0, 2.5, 5, 7.5, 10])
        ax.set_xticklabels(["0.0", "2.5", "5.0", "7.5", "10.0"])
        if i == 0:
            ax.set_yticklabels(["\u221210.0", "\u22127.5", "\u22125.0", "\u22122.5", "0.0",
                                "2.5", "5.0", "7.5", "10.0"])
        else:
            ax.set_yticklabels([])
        ax.tick_params(labelsize=9, pad=2.5)
        ax.set_title(titles[i], fontsize=10.5)
        for sp in ax.spines.values():
            sp.set_color("#333333")


draw_panel(37, pts_a, mean_a, upper_a, lower_a, text_x_a)
draw_panel(374, pts_b, mean_b, upper_b, lower_b, text_x_b)

fig.text(38 / W, 1 - 142 / H, "Difference grader 1\nvs. grader 2", rotation=90, ha="center", va="center",
         fontsize=15.5, family=lab_font, linespacing=1.0)
fig.text(38 / W, 1 - 478 / H, "Difference graders\nvs. neural network", rotation=90, ha="center",
         va="center", fontsize=15.5, family=lab_font, linespacing=1.0)
fig.text(632 / W, 1 - 300 / H, "Mean of grader 1 and grader 2", ha="center", va="center",
         fontsize=15.5, family=lab_font)
fig.text(632 / W, 1 - 630 / H, "Mean of graders 1&2 and neural  network", ha="center", va="center",
         fontsize=15.5, family=lab_font)
fig.text(30 / W, 1 - 306 / H, "A", ha="center", va="center", fontsize=18, fontweight="bold", family=lab_font)
fig.text(30 / W, 1 - 638 / H, "B", ha="center", va="center", fontsize=18, fontweight="bold", family=lab_font)

fig.savefig("out.png", dpi=100)
